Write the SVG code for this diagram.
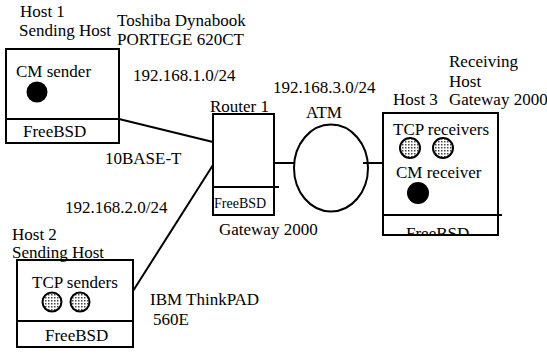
<svg xmlns="http://www.w3.org/2000/svg" width="547" height="358" viewBox="0 0 547 358">
<style>
text{font-family:"Liberation Serif","Times New Roman","DejaVu Serif",serif;font-size:17px;fill:#000}
.box{fill:none;stroke:#000;stroke-width:2}
.ln{fill:none;stroke:#000;stroke-width:2}
.dot{fill:#000}
.hatch{fill:url(#grid);stroke:#000;stroke-width:2}
.small{font-size:14px}
</style>
<defs>
<pattern id="grid" width="3" height="3" patternUnits="userSpaceOnUse">
<rect width="3" height="3" fill="#fff"/>
<rect x="0" y="0" width="1.5" height="1.5" fill="#444"/>
</pattern>
<clipPath id="h3clip"><rect x="383" y="215" width="116" height="20"/></clipPath>
</defs>
<rect width="547" height="358" fill="#fff"/>

<g id="connectors">
<line class="ln" x1="119" y1="119" x2="213" y2="142"/>
<line class="ln" x1="133" y1="291" x2="213" y2="165"/>
<line class="ln" x1="274" y1="163" x2="294" y2="163"/>
<line class="ln" x1="363" y1="163" x2="384" y2="163"/>
</g>

<g id="host1">
<text x="20" y="17">Host 1</text>
<text x="19" y="36">Sending Host</text>
<text x="117" y="26">Toshiba Dynabook</text>
<text x="117" y="45">PORTEGE 620CT</text>
<rect class="box" x="6" y="49" width="113" height="94"/>
<line class="ln" x1="6" y1="119" x2="119" y2="119"/>
<text x="16" y="77">CM sender</text>
<circle class="dot" cx="37" cy="92" r="10.5"/>
<text x="23" y="137">FreeBSD</text>
</g>

<g id="host2">
<text x="12" y="240">Host 2</text>
<text x="12" y="258">Sending Host</text>
<rect class="box" x="17" y="260" width="116" height="87"/>
<line class="ln" x1="17" y1="321" x2="133" y2="321"/>
<text x="32" y="288">TCP senders</text>
<circle class="hatch" cx="52" cy="302" r="9.5"/>
<circle class="hatch" cx="80" cy="302" r="9.5"/>
<text x="45" y="341">FreeBSD</text>
<text x="150" y="305">IBM ThinkPAD</text>
<text x="153" y="325">560E</text>
</g>

<g id="router1">
<text x="210" y="112">Router 1</text>
<rect class="box" x="213" y="114" width="61" height="101"/>
<line class="ln" x1="213" y1="187" x2="279" y2="187"/>
<text class="small" x="214" y="208">FreeBSD</text>
<text x="219" y="235">Gateway 2000</text>
</g>

<g id="atm">
<text x="273" y="93">192.168.3.0/24</text>
<text x="306" y="118">ATM</text>
<ellipse class="box" cx="331" cy="168" rx="37" ry="43.5"/>
</g>

<g id="host3">
<text x="449" y="67">Receiving</text>
<text x="449" y="87">Host</text>
<text x="449" y="105">Gateway 2000</text>
<text x="393" y="105">Host 3</text>
<rect class="box" x="383" y="113" width="115" height="122"/>
<line class="ln" x1="383" y1="215" x2="502" y2="215"/>
<text x="393" y="135">TCP receivers</text>
<circle class="hatch" cx="410" cy="148" r="10"/>
<circle class="hatch" cx="443" cy="148" r="10"/>
<text x="396" y="178">CM receiver</text>
<circle class="dot" cx="418" cy="193" r="11"/>
<text x="406" y="239" clip-path="url(#h3clip)">FreeBSD</text>
</g>

<g id="labels">
<text x="133" y="81">192.168.1.0/24</text>
<text x="105" y="164">10BASE-T</text>
<text x="65" y="213">192.168.2.0/24</text>
</g>
</svg>
